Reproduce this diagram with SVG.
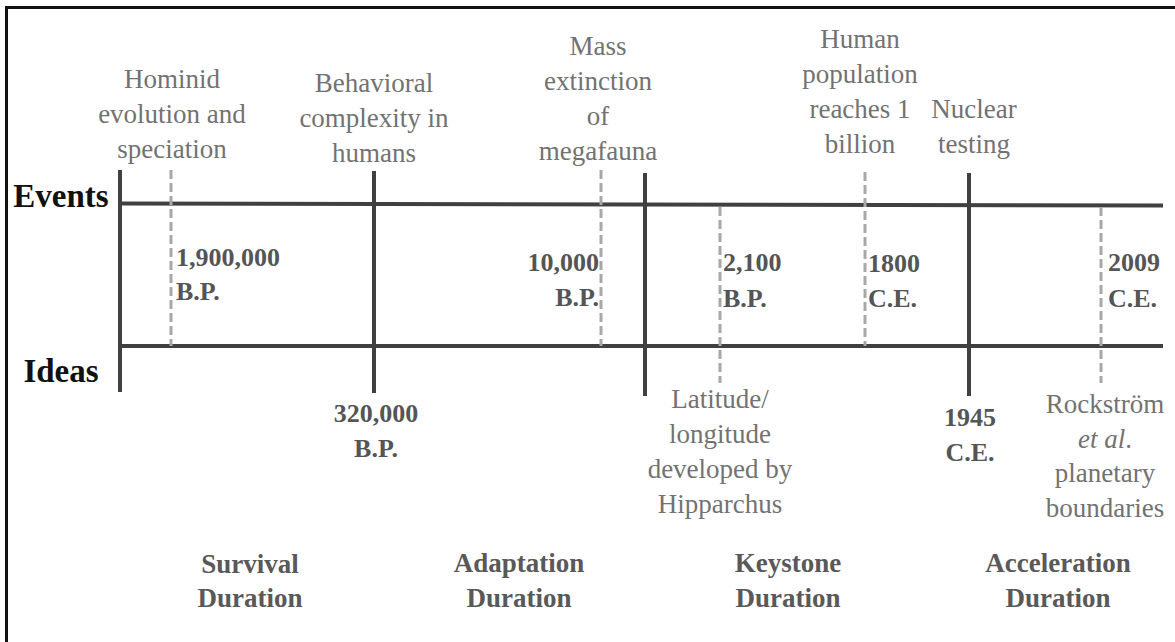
<svg xmlns="http://www.w3.org/2000/svg" width="1175" height="642" viewBox="0 0 1175 642">
  <style>
    text { font-family: "Liberation Serif", "DejaVu Serif", "Times New Roman", serif; }
    .lbl { font-size: 27px; fill: #727272; text-anchor: middle; }
    .num { font-size: 26px; fill: #555555; font-weight: bold; }
    .era { font-size: 27px; fill: #595959; font-weight: bold; text-anchor: middle; }
    .row { font-size: 33px; fill: #111111; font-weight: bold; text-anchor: middle; }
    .axis { stroke: #404040; stroke-width: 4; fill: none; }
    .solid { stroke: #404040; stroke-width: 4; }
    .dash { stroke: #a8a8a8; stroke-width: 3; stroke-dasharray: 9 4; }
  </style>

  <rect width="1175" height="642" fill="#ffffff"/>
  <!-- outer frame (open to the right and bottom) -->
  <path d="M6.5,650 V7.5 H1185" fill="none" stroke="#111111" stroke-width="3"/>

  <!-- axes and tick marks -->
  <g id="connectors">
    <line class="axis" x1="120" y1="203.5" x2="1163" y2="205.5"/>
    <line class="axis" x1="120" y1="346" x2="1163" y2="346"/>
    <line class="solid" x1="120" y1="170" x2="120" y2="392"/>
    <line class="solid" x1="374" y1="171" x2="374" y2="393"/>
    <line class="solid" x1="645" y1="173" x2="645" y2="396"/>
    <line class="solid" x1="969" y1="173" x2="969" y2="396"/>
    <line class="dash" x1="171" y1="170" x2="171" y2="346"/>
    <line class="dash" x1="601" y1="170" x2="601" y2="346"/>
    <line class="dash" x1="720" y1="207" x2="720" y2="383"/>
    <line class="dash" x1="865" y1="172" x2="865" y2="346"/>
    <line class="dash" x1="1101" y1="207" x2="1101" y2="383"/>
  </g>

  <!-- row headings -->
  <g id="row-events"><text class="row" x="61" y="207">Events</text></g>
  <g id="row-ideas"><text class="row" x="61" y="382">Ideas</text></g>

  <!-- events above the upper axis -->
  <g id="hominid">
    <text class="lbl" x="172" y="88">Hominid</text>
    <text class="lbl" x="172" y="123">evolution and</text>
    <text class="lbl" x="172" y="158">speciation</text>
    <text class="num" x="176" y="266">1,900,000</text>
    <text class="num" x="176" y="300">B.P.</text>
  </g>
  <g id="behavioral">
    <text class="lbl" x="374" y="92">Behavioral</text>
    <text class="lbl" x="374" y="127">complexity in</text>
    <text class="lbl" x="374" y="162">humans</text>
    <text class="num" x="376" y="422" text-anchor="middle">320,000</text>
    <text class="num" x="376" y="457" text-anchor="middle">B.P.</text>
  </g>
  <g id="megafauna">
    <text class="lbl" x="598" y="55">Mass</text>
    <text class="lbl" x="598" y="90">extinction</text>
    <text class="lbl" x="598" y="125">of</text>
    <text class="lbl" x="598" y="160">megafauna</text>
    <text class="num" x="599" y="271" text-anchor="end">10,000</text>
    <text class="num" x="599" y="306" text-anchor="end">B.P.</text>
  </g>
  <g id="latitude">
    <text class="num" x="723" y="271">2,100</text>
    <text class="num" x="723" y="307">B.P.</text>
    <text class="lbl" x="720" y="408">Latitude/</text>
    <text class="lbl" x="720" y="443">longitude</text>
    <text class="lbl" x="720" y="478">developed by</text>
    <text class="lbl" x="720" y="513">Hipparchus</text>
  </g>
  <g id="population">
    <text class="lbl" x="860" y="48">Human</text>
    <text class="lbl" x="860" y="83">population</text>
    <text class="lbl" x="860" y="118">reaches 1</text>
    <text class="lbl" x="860" y="153">billion</text>
    <text class="num" x="868" y="272">1800</text>
    <text class="num" x="868" y="307">C.E.</text>
  </g>
  <g id="nuclear">
    <text class="lbl" x="974" y="118">Nuclear</text>
    <text class="lbl" x="974" y="153">testing</text>
    <text class="num" x="970" y="426" text-anchor="middle">1945</text>
    <text class="num" x="970" y="461" text-anchor="middle">C.E.</text>
  </g>
  <g id="boundaries">
    <text class="num" x="1108" y="271">2009</text>
    <text class="num" x="1108" y="307">C.E.</text>
    <text class="lbl" x="1105" y="413">Rockström</text>
    <text class="lbl" x="1105" y="448"><tspan font-style="italic">et al</tspan>.</text>
    <text class="lbl" x="1105" y="482">planetary</text>
    <text class="lbl" x="1105" y="517">boundaries</text>
  </g>

  <!-- duration names -->
  <g id="survival">
    <text class="era" x="250" y="573">Survival</text>
    <text class="era" x="250" y="607">Duration</text>
  </g>
  <g id="adaptation">
    <text class="era" x="519" y="572">Adaptation</text>
    <text class="era" x="519" y="607">Duration</text>
  </g>
  <g id="keystone">
    <text class="era" x="788" y="572">Keystone</text>
    <text class="era" x="788" y="607">Duration</text>
  </g>
  <g id="acceleration">
    <text class="era" x="1058" y="572">Acceleration</text>
    <text class="era" x="1058" y="607">Duration</text>
  </g>
</svg>
